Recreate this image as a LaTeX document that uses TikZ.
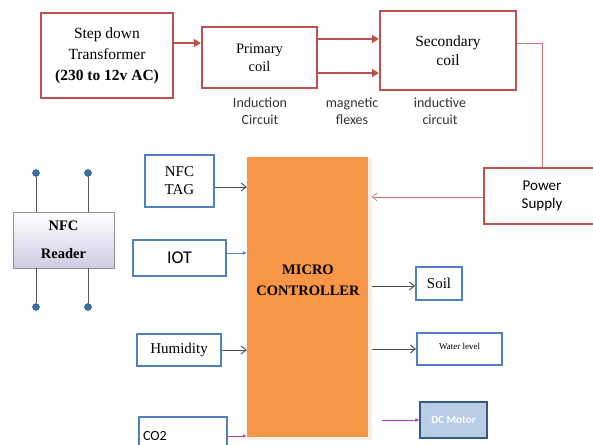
\documentclass[tikz,border=0pt]{standalone}
\usepackage{fontspec}
\setmainfont{Liberation Serif}
\newfontfamily\calib{Carlito}
\usepackage{tikz}
\usetikzlibrary{arrows.meta, positioning, calc}
\usepackage{xcolor}
\definecolor{redline}{HTML}{C0504D}
\definecolor{blueline}{HTML}{4F81BD}
\definecolor{mcorange}{HTML}{F79646}
\definecolor{motorfill}{HTML}{B9CDE5}
\definecolor{dotblue}{HTML}{3E6DA6}
\definecolor{lavender}{HTML}{CFCBE2}
\definecolor{purpleline}{HTML}{B040C0}

\begin{document}
\begin{tikzpicture}[x=1pt, y=-1pt,
    redbox/.style = {draw=redline, line width=2.2pt, fill=white, align=center, inner sep=2pt},
    bluebox/.style = {draw=blueline, line width=2pt, fill=white, align=center, inner sep=2pt},
    redflow/.style = {draw=redline, line width=2.4pt, -{Triangle[length=7pt, width=8pt]}},
    thinred/.style = {draw=redline!80, line width=0.7pt},
    sig/.style = {draw=black!70, line width=0.9pt, -{Straight Barb[length=5pt, width=8pt]}},
    bluesig/.style = {draw=blueline, line width=0.8pt, -{Latex[length=4pt, width=4pt]}},
    purplesig/.style = {draw=purpleline, line width=0.8pt, -{Latex[length=4pt, width=4pt]}},
    note/.style = {align=center, text=black!80, font=\calib\fontsize{14}{17.5}\selectfont},
    antdot/.style = {circle, fill=dotblue, draw=dotblue!70!black, inner sep=0pt, minimum size=7pt},
    antenna/.style = {draw=black!65, line width=1pt}
]
\useasboundingbox (0,0) rectangle (593,444);

% Supply chain
\node (SDT) [redbox, minimum width=132pt, minimum height=85pt, font=\fontsize{15.5}{21}\selectfont] at (107,55.5)
    {Step down\\Transformer\\\textbf{(230 to 12v AC)}};
\node (Prim) [redbox, minimum width=115pt, minimum height=61pt, font=\fontsize{14.5}{18}\selectfont] at (259.5,57.5)
    {Primary\\coil};
\node (Sec) [redbox, minimum width=136pt, minimum height=79pt, font=\fontsize{15.5}{19}\selectfont] at (448,50.5)
    {Secondary\\coil};
\node (PS) [redbox, minimum width=116pt, minimum height=56pt, line width=1.8pt, font=\calib\fontsize{15}{18}\selectfont] at (542,196)
    {Power\\Supply};

% Notes under the coils
\node (NInd) [note] at (260,111) {Induction\\Circuit};
\node (NMag) [note] at (352,111) {magnetic\\flexes};
\node (NCir) [note] at (440,111) {inductive\\circuit};

% Micro controller
\node (MCUsh) [fill=brown!12, minimum width=124pt, minimum height=283pt, inner sep=0pt] at (309.5,298.5) {};
\node (MCU) [fill=mcorange, minimum width=121pt, minimum height=280pt, inner sep=0pt] at (307.5,297) {};
\node (MCUtxt) [align=center, font=\bfseries\fontsize{14.5}{21}\selectfont] at (308,280) {MICRO\\CONTROLLER};

% Inputs
\node (Tag) [bluebox, minimum width=69pt, minimum height=52pt, font=\fontsize{15}{18}\selectfont] at (179.5,181) {NFC\\TAG};
\node (IOT) [bluebox, minimum width=93pt, minimum height=36pt, font=\calib\fontsize{18}{20}\selectfont] at (179.5,258) {IOT};
\node (Hum) [bluebox, minimum width=84pt, minimum height=32pt, font=\fontsize{15}{17}\selectfont] at (179,350) {Humidity};
\node (CO2) [bluebox, minimum height=38pt, text width=80pt, align=left, inner sep=4pt, font=\calib\fontsize{14}{16}\selectfont] at (183,436) {CO2};

% NFC reader with antennas
\node (Reader) [draw=lavender!70!black, line width=0.5pt, top color=white, bottom color=lavender,
    minimum width=101pt, minimum height=56pt, align=center, font=\bfseries\fontsize{14.5}{16}\selectfont] at (63.5,240)
    {NFC\\[12pt]Reader};
\node (A1) [antdot] at (36,173) {};
\node (A2) [antdot] at (88,173) {};
\node (A3) [antdot] at (36,307) {};
\node (A4) [antdot] at (88,307) {};

% Outputs
\node (Soil) [bluebox, minimum width=46pt, minimum height=33pt, font=\fontsize{15}{17}\selectfont] at (439,283.5) {Soil};
\node (Water) [bluebox, minimum width=85pt, minimum height=32pt, font=\fontsize{9}{11}\selectfont] at (459.5,349) {\raisebox{5pt}{Water level}};
\node (DC) [draw=blueline!70!black, line width=1.2pt, fill=motorfill, minimum width=67pt, minimum height=36pt,
    text=white, font=\calib\bfseries\fontsize{11}{13}\selectfont] at (453.5,420) {DC Motor};

% Supply connections
\draw [redflow] (SDT.east |- 0,43) -- (Prim.west |- 0,43);
\draw [redflow] (Prim.east |- 0,39) -- (Sec.west |- 0,39);
\draw [redflow] (Prim.east |- 0,73) -- (Sec.west |- 0,73);
\draw [thinred] (Sec.east |- 0,43) -| (PS.north);
\draw [thinred, -{Straight Barb[length=5pt, width=8pt]}] (PS.west |- 0,197) -- (MCUsh.east |- 0,197);

% Antennas
\draw [antenna] (A1) -- (A1 |- Reader.north);
\draw [antenna] (A2) -- (A2 |- Reader.north);
\draw [antenna] (A3) -- (A3 |- Reader.south);
\draw [antenna] (A4) -- (A4 |- Reader.south);

% Signals into the controller
\draw [sig] (Tag.east |- 0,187) -- (MCU.west |- 0,187);
\draw [bluesig] (IOT.east |- 0,253) -- (MCU.west |- 0,253);
\draw [sig] (Hum.east) -- (MCU.west |- Hum.east);
\draw [purplesig] (CO2.east) -- (MCU.west |- CO2.east);

% Signals out of the controller
\draw [sig] (MCUsh.east |- 0,286) -- (Soil.west |- 0,286);
\draw [sig] (MCUsh.east |- Water.west) -- (Water.west);
\draw [purplesig] ([xshift=10pt]MCUsh.east |- DC.west) -- (DC.west);

\end{tikzpicture}
\end{document}
